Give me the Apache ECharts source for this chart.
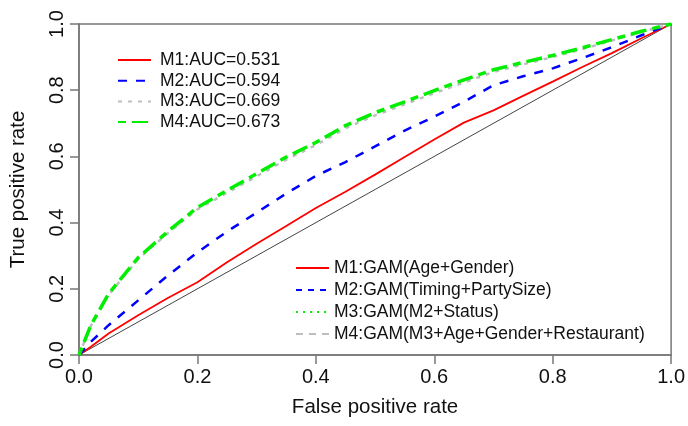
<!DOCTYPE html>
<html>
<head>
<meta charset="utf-8">
<script src="https://cdn.jsdelivr.net/npm/echarts@6/dist/echarts.min.js"></script>
<style>
  html, body { margin: 0; padding: 0; background: #fff; }
  #chart { width: 688px; height: 426px; }
</style>
</head>
<body>
<div id="chart"></div>
<script>
// false positive rate grid shared by all curves
const fpr = [0, 0.02, 0.05, 0.1, 0.15, 0.2, 0.25, 0.3, 0.35, 0.4, 0.45, 0.5, 0.55, 0.6, 0.65, 0.7, 0.75, 0.8, 0.85, 0.9, 0.95, 1];
const tprM1 = [0, 0.025, 0.065, 0.12, 0.172, 0.22, 0.28, 0.336, 0.39, 0.444, 0.493, 0.545, 0.598, 0.651, 0.702, 0.739, 0.783, 0.826, 0.87, 0.912, 0.957, 1];
const tprM2 = [0, 0.04, 0.09, 0.165, 0.24, 0.31, 0.373, 0.43, 0.488, 0.541, 0.583, 0.63, 0.678, 0.72, 0.765, 0.815, 0.842, 0.866, 0.897, 0.93, 0.966, 1];
const tprM3 = [0, 0.088, 0.182, 0.29, 0.368, 0.44, 0.49, 0.54, 0.59, 0.634, 0.685, 0.724, 0.757, 0.791, 0.823, 0.855, 0.878, 0.9, 0.924, 0.95, 0.976, 1];
const tprM4 = [0, 0.09, 0.185, 0.294, 0.373, 0.446, 0.497, 0.548, 0.598, 0.642, 0.693, 0.732, 0.765, 0.799, 0.831, 0.862, 0.884, 0.905, 0.928, 0.953, 0.978, 1];
const diagonal = [[0, 0], [1, 1]];

const aucNames = ['M1:AUC=0.531', 'M2:AUC=0.594', 'M3:AUC=0.669', 'M4:AUC=0.673'];
const gamNames = ['M1:GAM(Age+Gender)', 'M2:GAM(Timing+PartySize)', 'M3:GAM(M2+Status)', 'M4:GAM(M3+Age+Gender+Restaurant)'];

const font = 'Liberation Sans, Arial, sans-serif';
const axisGray = '#777';

function pairs(ys) {
    return fpr.map((x, i) => [x, ys[i]]);
}

function curve(name, ys, color, width, dash) {
    return {
        name: name, type: 'line', data: ys ? pairs(ys) : [],
        symbol: 'none', silent: true,
        lineStyle: { color: color, width: width, type: dash },
        itemStyle: { color: color }
    };
}

let chart = echarts.init(document.getElementById('chart'));
chart.setOption({
    animation: false,
    backgroundColor: '#fff',
    grid: { left: 79, top: 24, width: 596, height: 331, show: true, borderColor: axisGray, borderWidth: 1.5 },
    xAxis: {
        type: 'value', min: 0, max: 1, interval: 0.2,
        name: 'False positive rate', nameLocation: 'middle', nameGap: 42,
        nameTextStyle: { fontFamily: font, fontSize: 20.5, color: '#111' },
        axisLine: { show: true, lineStyle: { color: axisGray, width: 1.5 } },
        axisTick: { show: true, length: 9, lineStyle: { color: axisGray, width: 1.5 } },
        axisLabel: { fontFamily: font, fontSize: 20, color: '#111', margin: 12, formatter: v => v.toFixed(1) },
        splitLine: { show: false }
    },
    yAxis: {
        type: 'value', min: 0, max: 1, interval: 0.2,
        name: 'True positive rate', nameLocation: 'middle', nameGap: 50,
        nameTextStyle: { fontFamily: font, fontSize: 20.5, color: '#111' },
        axisLine: { show: true, lineStyle: { color: axisGray, width: 1.5 } },
        axisTick: { show: true, length: 9, lineStyle: { color: axisGray, width: 1.5 } },
        axisLabel: { fontFamily: font, fontSize: 20, color: '#111', margin: 12, rotate: 90, formatter: v => v.toFixed(1) },
        splitLine: { show: false }
    },
    legend: [
        {
            data: aucNames, orient: 'vertical', left: 112, top: 46,
            itemWidth: 33, itemHeight: 14, itemGap: 2.7,
            itemStyle: { opacity: 0 },
            textStyle: { fontFamily: font, fontSize: 17.5, color: '#111', padding: [0, 0, 0, 4] }
        },
        {
            data: gamNames, orient: 'vertical', left: 290, top: 254,
            itemWidth: 33, itemHeight: 14, itemGap: 4,
            itemStyle: { opacity: 0 },
            textStyle: { fontFamily: font, fontSize: 17.5, color: '#111' }
        }
    ],
    series: [
        { type: 'line', data: diagonal, symbol: 'none', silent: true, lineStyle: { color: '#444', width: 1 } },
        curve(aucNames[0], tprM1, '#ff0000', 1.8, 'solid'),
        curve(aucNames[1], tprM2, '#0000ff', 2.5, [9, 9]),
        curve(aucNames[2], tprM3, '#bebebe', 2.5, [4, 6]),
        curve(aucNames[3], tprM4, '#00ee00', 3.5, [8, 6, 16, 6]),
        curve(gamNames[0], null, '#ff0000', 1.5, 'solid'),
        curve(gamNames[1], null, '#0000ff', 1.5, [6, 6]),
        curve(gamNames[2], null, '#00ee00', 1.5, [2, 5]),
        curve(gamNames[3], null, '#bebebe', 3, [7, 6])
    ]
});
</script>
</body>
</html>
